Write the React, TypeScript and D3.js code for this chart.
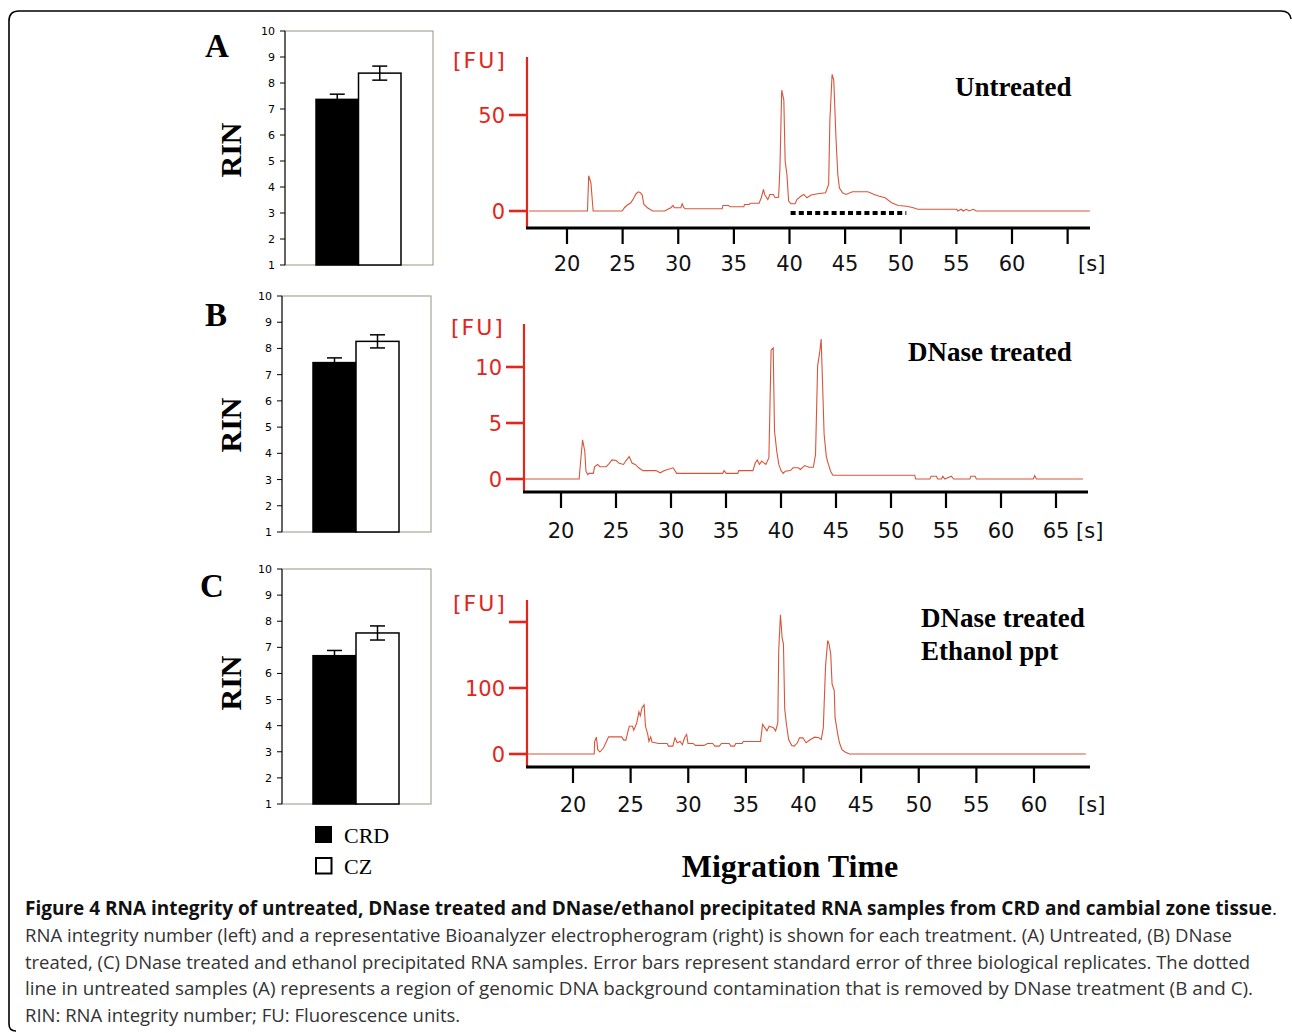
import React from "react";
import * as d3 from "d3";

const W = 1292;
const H = 1033;

// RIN bar values (A, B, C)
const groups = ["CRD", "CZ"];
const crdRin = [7.37, 7.46, 6.68];
const crdErr = [0.2, 0.18, 0.2];
const czRin = [8.38, 8.27, 7.55];
const czErr = [0.27, 0.25, 0.27];
const rinTicks = [1, 2, 3, 4, 5, 6, 7, 8, 9, 10];
const panelLetters = ["A", "B", "C"];

// electropherogram traces: [seconds, FU]
const traceA: [number, number][] = [
  [16.6, 0], [21.84, 0], [21.95, 18.4], [22.15, 14.6], [22.35, 0], [24.96, 0], [25.16, 1.7],
  [25.43, 3.1], [25.74, 4.3], [26.02, 6.9], [26.21, 9.0], [26.41, 10], [26.6, 9.5], [26.76, 8.3],
  [26.91, 3.4], [27.23, 1.7], [27.7, 0], [28.79, 0], [29.06, 0.9], [29.34, 1.7], [29.53, 2.9],
  [29.65, 1.7], [30.23, 1.7], [30.35, 3.8], [30.5, 1.7], [30.63, 1.2], [33.95, 1.2], [34.02, 2.9],
  [34.53, 2.9], [34.65, 2.2], [35.9, 2.2], [35.95, 3.4], [36.37, 3.4], [36.48, 4.0], [37.27, 4.0],
  [37.46, 6.9], [37.66, 11.2], [37.77, 8.6], [38.05, 6], [38.24, 8.6], [38.55, 8.6], [38.71, 6.9],
  [39.02, 7.2], [39.14, 22.4], [39.3, 62.9], [39.49, 57.8], [39.61, 25.9], [39.77, 19], [39.92, 5.2],
  [40.12, 3.8], [40.51, 3.8], [40.66, 6], [41.05, 7.8], [41.29, 8.6], [41.56, 6.9], [41.95, 8.3],
  [42.54, 9], [43.24, 9.5], [43.52, 13.8], [43.63, 47.4], [43.83, 71.2], [43.98, 68.1], [44.18, 37.9],
  [44.34, 19], [44.49, 12], [44.77, 9.5], [45.08, 8.6], [45.66, 10], [47.03, 10], [47.62, 8.6],
  [48.0, 7.8], [48.59, 6.9], [49.18, 4.3], [49.77, 2.9], [50.55, 2.5], [51.13, 1.7], [51.52, 0.9],
  [55.04, 0.9], [55.12, 0], [55.43, 0.9], [55.62, 0], [55.9, 0.9], [56.13, 0], [56.52, 0.9],
  [56.8, 0], [67.0, 0],
];

const traceB: [number, number][] = [
  [16.67, 0], [21.65, 0], [21.76, 1.3], [21.96, 3.5], [22.16, 2.5], [22.27, 0.7], [22.43, 0.4],
  [22.55, 0.5], [22.94, 0.5], [23.06, 1.1], [23.33, 1.3], [23.53, 1.1], [24.12, 1.1], [24.39, 1.4],
  [24.63, 1.7], [25.02, 1.65], [25.29, 1.4], [25.69, 1.3], [25.88, 1.6], [26.2, 2.0], [26.47, 1.4],
  [26.75, 1.3], [27.06, 1.0], [27.45, 0.75], [28.63, 0.75], [29.02, 0.55], [29.41, 0.75], [30.2, 1.0],
  [30.51, 0.5], [34.71, 0.5], [34.82, 0.75], [35.02, 0.5], [36.08, 0.5], [36.16, 0.75], [37.45, 0.75],
  [37.65, 1.4], [37.84, 1.7], [38.04, 1.3], [38.24, 1.6], [38.63, 1.3], [38.9, 1.9], [39.1, 11.5],
  [39.29, 11.7], [39.41, 4.3], [39.61, 2.5], [39.8, 1.3], [40.0, 0.75], [40.2, 0.5], [40.39, 0.7],
  [40.86, 0.75], [41.1, 1.0], [41.57, 1.0], [41.76, 0.85], [42.16, 1.2], [42.55, 1.05], [42.94, 1.05],
  [43.14, 2.2], [43.33, 10.1], [43.53, 11.4], [43.65, 12.5], [43.76, 9.1], [43.92, 4.0], [44.12, 2.0],
  [44.31, 1.3], [44.51, 0.7], [44.71, 0.33], [52.16, 0.33], [52.24, 0], [53.53, 0], [53.65, 0.25],
  [54.12, 0.25], [54.24, 0], [54.59, 0], [54.71, 0.25], [54.9, 0], [55.49, 0.25], [55.69, 0],
  [57.18, 0], [57.25, 0.25], [57.65, 0.25], [57.76, 0], [62.94, 0], [63.06, 0.3], [63.22, 0],
  [67.45, 0],
];

const traceC: [number, number][] = [
  [15.93, 0], [21.84, 0], [21.88, 19], [22.03, 25.5], [22.15, 6.6], [22.33, 3], [22.64, 9], [22.9, 19],
  [23.09, 26], [24.22, 26], [24.41, 21], [24.59, 21], [24.78, 35], [24.89, 42], [25.16, 42], [25.27, 36],
  [25.53, 47], [25.72, 64], [25.84, 58], [25.99, 70], [26.17, 74.5], [26.29, 42], [26.48, 30], [26.59, 19],
  [26.74, 26], [26.85, 18], [27.42, 16], [28.17, 16], [28.28, 12], [28.66, 12], [28.85, 24.5], [29.04, 17],
  [29.3, 19], [29.49, 14], [29.68, 24.5], [29.86, 29.6], [29.98, 16], [30.43, 16], [30.62, 13], [31.37, 13],
  [31.67, 16], [32.12, 16], [32.31, 12], [32.69, 12], [32.88, 16], [33.55, 16], [33.7, 12], [34.01, 12],
  [34.12, 16], [34.68, 16], [34.76, 19], [36.27, 19], [36.45, 45], [36.64, 40], [36.83, 35], [37.02, 42],
  [37.39, 40], [37.58, 35], [37.77, 47], [37.85, 157], [38.0, 211], [38.15, 175], [38.26, 167], [38.37, 68],
  [38.52, 45], [38.71, 22], [38.98, 13], [39.2, 12], [39.47, 17], [39.65, 24.5], [39.95, 24.5], [40.22, 17],
  [40.6, 22], [40.97, 25.5], [41.35, 24.5], [41.54, 22], [41.72, 40], [41.91, 132], [42.1, 172], [42.21, 167],
  [42.36, 152], [42.48, 106], [42.67, 96], [42.74, 55], [42.97, 30], [43.12, 17], [43.34, 6.6], [43.61, 3],
  [43.98, 0], [64.5, 0],
];

const traces = [traceA, traceB, traceC];
const traceTitles = [["Untreated"], ["DNase treated"], ["DNase treated", "Ethanol ppt"]];
const xTicks = [
  [20, 25, 30, 35, 40, 45, 50, 55, 60, 65],
  [20, 25, 30, 35, 40, 45, 50, 55, 60, 65],
  [20, 25, 30, 35, 40, 45, 50, 55, 60],
];
const xTickLabeled = [
  [20, 25, 30, 35, 40, 45, 50, 55, 60],
  [20, 25, 30, 35, 40, 45, 50, 55, 60, 65],
  [20, 25, 30, 35, 40, 45, 50, 55, 60],
];
const yTicks = [[0, 50], [0, 5, 10], [0, 100, 200]];
const yTickLabeled = [[0, 50], [0, 5, 10], [0, 100]];
const dottedRegion = [40.1, 50.5]; // genomic DNA background, panel A

const captionBold =
  "Figure 4 RNA integrity of untreated, DNase treated and DNase/ethanol precipitated RNA samples from CRD and cambial zone tissue";
const captionLines = [
  "RNA integrity number (left) and a representative Bioanalyzer electropherogram (right) is shown for each treatment. (A) Untreated, (B) DNase",
  "treated, (C) DNase treated and ethanol precipitated RNA samples. Error bars represent standard error of three biological replicates. The dotted",
  "line in untreated samples (A) represents a region of genomic DNA background contamination that is removed by DNase treatment (B and C).",
  "RIN: RNA integrity number; FU: Fluorescence units.",
];
const captionWidths = [1207, 1225, 1228, 0];

// layout of each row
const barBoxes = [
  { x0: 285, x1: 433, top: 31, bottom: 265, letterX: 205, letterY: 57, rinY: 150 },
  { x0: 282, x1: 431, top: 296, bottom: 532, letterX: 205, letterY: 326, rinY: 425 },
  { x0: 282, x1: 431, top: 569, bottom: 804, letterX: 200, letterY: 597, rinY: 683 },
];
const ephLayout = [
  { ax: 527, axEnd: 1090, top: 57, base: 228, x20: 567, xLast: 1012, lastS: 60, y0: 211, yRef: 115, refV: 50, labelY: 271, fuX: 453, fuY: 68, titleX: 955, titleY: 96 },
  { ax: 524, axEnd: 1088, top: 324, base: 492, x20: 561, xLast: 1056, lastS: 65, y0: 479, yRef: 367, refV: 10, labelY: 538, fuX: 451, fuY: 335, titleX: 908, titleY: 361 },
  { ax: 527, axEnd: 1090, top: 600, base: 767, x20: 573, xLast: 1034, lastS: 60, y0: 754, yRef: 688, refV: 100, labelY: 812, fuX: 453, fuY: 611, titleX: 921, titleY: 627 },
];

const RED = "#e3261c";
const TRACE = "#d8553a";
const numFont = "'DejaVu Sans', Verdana, sans-serif";
const serif = "'Liberation Serif', 'Times New Roman', serif";

const BarPanel = ({ i }: { i: number }) => {
  const b = barBoxes[i];
  const y = d3.scaleLinear().domain([1, 10]).range([b.bottom, b.top]);
  const x = d3.scaleBand().domain(groups).range([b.x0 + 31, b.x1 - 32]).paddingInner(0);
  const vals = [crdRin[i], czRin[i]];
  const errs = [crdErr[i], czErr[i]];
  return (
    <g>
      <rect x={b.x0} y={b.top} width={b.x1 - b.x0} height={b.bottom - b.top} fill="none" stroke="#a9a596" strokeWidth={1.2} />
      <line x1={b.x0} x2={b.x0} y1={b.top} y2={b.bottom} stroke="#000" strokeWidth={1} />
      {rinTicks.map((t) => (
        <g key={t}>
          <line x1={b.x0 - 5} x2={b.x0} y1={y(t)} y2={y(t)} stroke="#000" strokeWidth={1} />
          <text x={b.x0 - 10} y={y(t) + 4} textAnchor="end" fontFamily={numFont} fontSize={11} fill="#000">
            {t}
          </text>
        </g>
      ))}
      {groups.map((g, k) => (
        <rect
          key={g}
          x={x(g)}
          y={y(vals[k])}
          width={x.bandwidth()}
          height={b.bottom - y(vals[k])}
          fill={k === 0 ? "#000" : "#fff"}
          stroke="#000"
          strokeWidth={1.5}
        />
      ))}
      {groups.map((g, k) => {
        const cx = (x(g) as number) + x.bandwidth() / 2;
        return (
          <g key={g} stroke="#000" strokeWidth={1.5}>
            <line x1={cx} x2={cx} y1={y(vals[k] - errs[k])} y2={y(vals[k] + errs[k])} />
            <line x1={cx - 7.5} x2={cx + 7.5} y1={y(vals[k] + errs[k])} y2={y(vals[k] + errs[k])} />
            <line x1={cx - 7.5} x2={cx + 7.5} y1={y(vals[k] - errs[k])} y2={y(vals[k] - errs[k])} />
          </g>
        );
      })}
      <text x={b.letterX} y={b.letterY} fontFamily={serif} fontWeight="bold" fontSize={33} fill="#000">
        {panelLetters[i]}
      </text>
      <text
        transform={`translate(241,${b.rinY}) rotate(-90)`}
        textAnchor="middle"
        fontFamily={serif}
        fontWeight="bold"
        fontSize={30}
        fill="#000"
      >
        RIN
      </text>
    </g>
  );
};

const Electropherogram = ({ i }: { i: number }) => {
  const L = ephLayout[i];
  const x = d3.scaleLinear().domain([20, L.lastS]).range([L.x20, L.xLast]);
  const y = d3.scaleLinear().domain([0, L.refV]).range([L.y0, L.yRef]);
  const line = d3
    .line<[number, number]>()
    .x((d) => x(d[0]))
    .y((d) => y(d[1]));
  return (
    <g>
      <path d={line(traces[i]) || ""} fill="none" stroke={TRACE} strokeWidth={1.1} />
      {i === 0 && (
        <line
          x1={x(dottedRegion[0])}
          x2={x(dottedRegion[1])}
          y1={L.y0 + 2}
          y2={L.y0 + 2}
          stroke="#000"
          strokeWidth={4}
          strokeDasharray="5 3.2"
        />
      )}
      <line x1={L.ax} x2={L.ax} y1={L.top} y2={L.base} stroke={RED} strokeWidth={2.2} />
      {yTicks[i].map((t) => (
        <line key={t} x1={L.ax - 18} x2={L.ax} y1={y(t)} y2={y(t)} stroke={RED} strokeWidth={2.6} />
      ))}
      {yTickLabeled[i].map((t) => (
        <text key={t} x={L.ax - 22} y={y(t) + 8} textAnchor="end" fontFamily={numFont} fontSize={21} fill={RED}>
          {t}
        </text>
      ))}
      <line x1={L.ax - 1} x2={L.axEnd} y1={L.base} y2={L.base} stroke="#000" strokeWidth={3} />
      {xTicks[i].map((t) => (
        <line key={t} x1={x(t)} x2={x(t)} y1={L.base} y2={L.base + 16} stroke="#000" strokeWidth={2.2} />
      ))}
      {xTickLabeled[i].map((t) => (
        <text key={t} x={x(t)} y={L.labelY} textAnchor="middle" fontFamily={numFont} fontSize={21} fill="#111">
          {t}
        </text>
      ))}
      <text x={L.axEnd - 12} y={L.labelY} fontFamily={numFont} fontSize={21} fill="#111">
        [s]
      </text>
      <text x={L.fuX} y={L.fuY} fontFamily={numFont} fontSize={22} fill={RED} letterSpacing={2}>
        [FU]
      </text>
      {traceTitles[i].map((t, k) => (
        <text key={t} x={L.titleX} y={L.titleY + k * 33} fontFamily={serif} fontWeight="bold" fontSize={27} fill="#000">
          {t}
        </text>
      ))}
    </g>
  );
};

export default function App() {
  return (
    <svg
      width={W}
      height={H}
      viewBox={`0 0 ${W} ${H}`}
      style={{ position: "absolute", left: 0, top: 0, background: "#fff" }}
    >
      <rect x={0} y={0} width={W} height={H} fill="#fff" />
      <path
        d="M 16 1031 Q 9 1031 9 1024 L 9 21 Q 9 11 19 11 L 1281 11 Q 1290 11 1291 19"
        fill="none"
        stroke="#000"
        strokeWidth={1.6}
      />
      {[0, 1, 2].map((i) => (
        <g key={i}>
          <BarPanel i={i} />
          <Electropherogram i={i} />
        </g>
      ))}
      {/* legend */}
      <rect x={315} y={826} width={17} height={17} fill="#000" />
      <text x={344} y={843} fontFamily={serif} fontSize={22} fill="#000">
        {groups[0]}
      </text>
      <rect x={316} y={858} width={15.5} height={15.5} fill="#fff" stroke="#000" strokeWidth={2} />
      <text x={344} y={874} fontFamily={serif} fontSize={22} fill="#000">
        {groups[1]}
      </text>
      <text x={790} y={877} textAnchor="middle" fontFamily={serif} fontWeight="bold" fontSize={32} fill="#000">
        Migration Time
      </text>
      {/* caption */}
      <text x={25} y={915} fontFamily="'Open Sans', sans-serif" fontSize={19} fill="#111">
        <tspan fontWeight="bold" textLength={1247} lengthAdjust="spacingAndGlyphs">
          {captionBold}
        </tspan>
        <tspan>.</tspan>
      </text>
      {captionLines.map((l, k) => (
        <text
          key={k}
          x={25}
          y={942 + k * 26.6}
          fontFamily="'Open Sans', sans-serif"
          fontSize={18.5}
          fill="#333"
          {...(captionWidths[k] ? { textLength: captionWidths[k], lengthAdjust: "spacingAndGlyphs" } : {})}
        >
          {l}
        </text>
      ))}
    </svg>
  );
}
